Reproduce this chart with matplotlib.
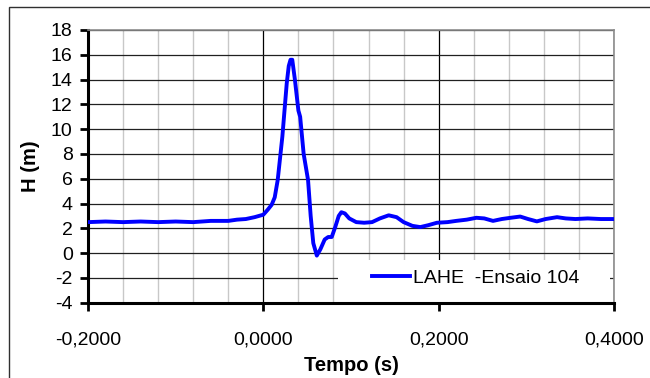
import matplotlib
matplotlib.use("Agg")
import matplotlib.pyplot as plt
from matplotlib.patches import Rectangle
from matplotlib.ticker import MultipleLocator

plt.rcParams["font.family"] = ["Liberation Sans", "DejaVu Sans"]
plt.rcParams["axes.unicode_minus"] = False

# values
time_s = [
    -0.200, -0.180, -0.160, -0.140, -0.120, -0.100, -0.080, -0.060, -0.040,
    -0.030, -0.020, -0.010, 0.000, 0.005, 0.0095, 0.013, 0.0164, 0.0217,
    0.0267, 0.029, 0.031, 0.033, 0.036, 0.040, 0.042, 0.046, 0.051, 0.054,
    0.057, 0.061, 0.065, 0.070, 0.074, 0.078, 0.082, 0.086, 0.089, 0.093,
    0.098, 0.106, 0.115, 0.124, 0.133, 0.143, 0.152, 0.160, 0.170, 0.179,
    0.188, 0.198, 0.210, 0.220, 0.232, 0.243, 0.252, 0.262, 0.272, 0.282,
    0.293, 0.302, 0.312, 0.322, 0.335, 0.345, 0.356, 0.370, 0.385, 0.400,
]
head_m = [
    2.50, 2.55, 2.50, 2.55, 2.50, 2.55, 2.50, 2.60, 2.60,
    2.70, 2.75, 2.90, 3.10, 3.50, 3.90, 4.50, 5.90, 9.40,
    13.70, 15.10, 15.60, 15.60, 14.00, 11.50, 11.00, 8.00, 5.90, 3.00,
    0.80, -0.20, 0.30, 1.10, 1.30, 1.30, 2.10, 3.00, 3.30, 3.20,
    2.80, 2.50, 2.45, 2.50, 2.80, 3.05, 2.90, 2.50, 2.20, 2.10,
    2.25, 2.45, 2.50, 2.60, 2.70, 2.85, 2.80, 2.60, 2.75, 2.85,
    2.95, 2.75, 2.56, 2.75, 2.90, 2.80, 2.75, 2.80, 2.75, 2.75,
]
series_label = "LAHE  -Ensaio 104"

x_ticks = [-0.2, 0.0, 0.2, 0.4]
x_tick_labels = ["-0,2000", "0,0000", "0,2000", "0,4000"]
y_ticks = list(range(-4, 19, 2))


def main() -> None:
    fig = plt.figure(figsize=(6.5, 3.78), dpi=100)
    ax = fig.add_axes([88 / 650, 1 - 302.7 / 378, 526 / 650, 272.7 / 378])

    # outer chart frame (runs off the right and bottom edge like the source)
    fig.patches.append(
        Rectangle((9 / 650, -0.1), 1.2, 1 - 7 / 378 + 0.1,
                  transform=fig.transFigure, fill=False,
                  edgecolor="#303030", linewidth=1.0, clip_on=False)
    )

    ax.plot(time_s, head_m, color="#0000ff", linewidth=2.8,
            solid_joinstyle="round", label=series_label, zorder=3)

    ax.set_xlim(-0.2, 0.4)
    ax.set_ylim(-4, 18)
    ax.set_xticks(x_ticks)
    ax.set_xticklabels(x_tick_labels)
    ax.xaxis.set_minor_locator(MultipleLocator(0.04))
    ax.set_yticks(y_ticks)

    ax.set_axisbelow(True)
    ax.grid(which="minor", axis="x", color="#c8c8c8", linewidth=1.0)
    ax.grid(which="major", axis="x", color="black", linewidth=0.9)
    ax.grid(which="major", axis="y", color="#202020", linewidth=0.9)

    ax.tick_params(which="major", direction="out", length=6, width=2.0,
                   labelsize=14)
    ax.tick_params(axis="y", which="major", pad=5)
    ax.tick_params(axis="x", which="major", pad=15)
    ax.tick_params(which="minor", length=0)

    for side in ("left", "bottom"):
        ax.spines[side].set_linewidth(2.2)
        ax.spines[side].set_color("black")
    for side in ("top", "right"):
        ax.spines[side].set_linewidth(1.2)
        ax.spines[side].set_color("#8c8c8c")

    ax.set_xlabel("Tempo (s)", fontsize=14.5, fontweight="bold", labelpad=5)
    ax.set_ylabel("H (m)", fontsize=14.5, fontweight="bold", labelpad=8)

    # white legend area that hides the grid in the lower right corner
    ax.add_patch(Rectangle((0.475, 0.0), 0.517, 0.157, transform=ax.transAxes,
                           facecolor="white", edgecolor="none", zorder=1.5))
    ax.legend(loc="center left", bbox_to_anchor=(0.539, 0.09), frameon=False,
              fontsize=14, handlelength=2.0, handletextpad=0.15,
              borderaxespad=0, borderpad=0, handleheight=0.5)

    fig.savefig("out.png", dpi=100)


if __name__ == "__main__":
    main()
